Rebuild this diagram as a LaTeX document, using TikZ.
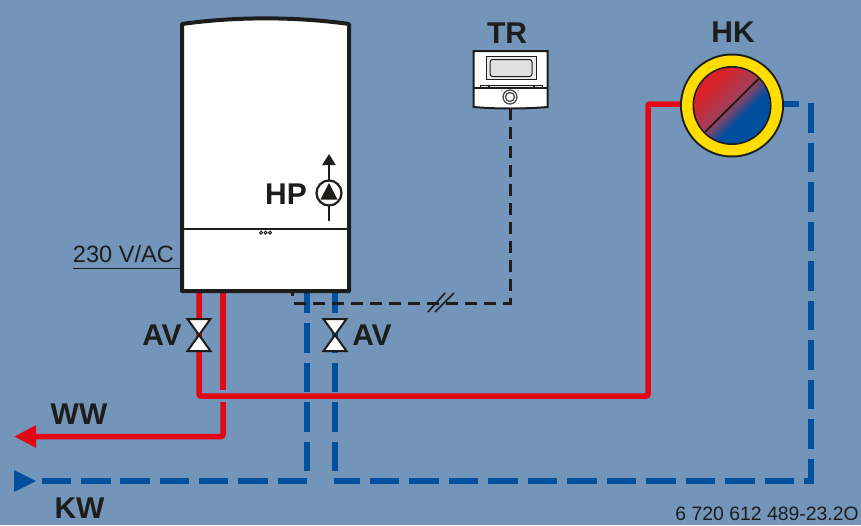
\documentclass[tikz,border=0pt]{standalone}
\usepackage{fontspec}
\setmainfont{Liberation Sans}
\usetikzlibrary{arrows.meta}
\definecolor{bgblue}{RGB}{115,149,186}
\definecolor{pipered}{RGB}{227,6,19}
\definecolor{pipeblue}{RGB}{0,80,158}
\definecolor{ringyellow}{RGB}{255,221,0}
\definecolor{inkblack}{RGB}{29,29,27}
\definecolor{hkred}{RGB}{218,33,40}
\definecolor{hkmid}{RGB}{160,64,90}
\pgfdeclarehorizontalshading{hkmix}{100bp}{color(0bp)=(hkred); color(30bp)=(hkred); color(49bp)=(hkmid); color(60bp)=(pipeblue); color(100bp)=(pipeblue)}
\tikzset{
  redpipe/.style={draw=pipered, line width=5.5pt, rounded corners=2pt},
  bluepipe/.style={draw=pipeblue, line width=5.5pt},
  signalline/.style={draw=inkblack, line width=3pt, dash pattern=on 12pt off 7pt},
  biglabel/.style={font=\fontsize{30}{32}\selectfont\bfseries, text=inkblack, inner sep=0pt},
  thinlabel/.style={text=inkblack, inner sep=0pt},
  devline/.style={draw=inkblack, line width=2pt},
  valvepart/.style={draw=inkblack, fill=white, line width=2pt, line join=miter}
}
\begin{document}
\begin{tikzpicture}[x=1pt,y=-1pt]

        \useasboundingbox (0,0) rectangle (861,525);
        \fill[bgblue] (0,0) rectangle (861,525); %background

        %% ports
        \coordinate (boilerA) at (199,291);
        \coordinate (boilerB) at (223,291);
        \coordinate (boilerC) at (307,291);
        \coordinate (boilerD) at (335,291);
        \coordinate (boilerE) at (292,291);
        \coordinate (hkIn) at (681,104);
        \coordinate (hkOut) at (783,104);
        \coordinate (trOut) at (510,108);
        \coordinate (wwEnd) at (14,436.5);

        %% pipes
        \draw[redpipe] (boilerA) -- (199,396) -- (648,396) -- (648,104) -- (hkIn); %flow
        \draw[redpipe] (boilerB) -- (223,390);
        \draw[redpipe,-{Triangle[length=22pt,width=21pt]}] (223,402) -- (223,436.5) -- (wwEnd); %hot water
        \draw[bluepipe] (hkOut) -- (799,104); %return stub
        \draw[bluepipe,dash pattern=on 29.5pt off 10pt,miter limit=10] (811,103) -- (811,481) -- (334,481);
        \draw[bluepipe,dash pattern=on 29.5pt off 10pt,dash phase=7.5pt] (boilerC) -- (307,471);
        \draw[bluepipe,dash pattern=on 29.5pt off 10pt,dash phase=7.5pt] (boilerD) -- (335,471);
        \draw[bluepipe,dash pattern=on 29.5pt off 9.8pt] (307,481) -- (41,481);
        \fill[pipeblue] (14,470) -- (36,481) -- (14,492) -- cycle; %cold water tip

        %% signal line
        \draw[signalline] (trOut) -- (510,303) -- (291,303);
        \draw[draw=inkblack,line width=3pt] (boilerE) -- (292,296);
        \draw[inkblack,line width=1.6pt] (428,312) -- (445,293); % slash
        \draw[inkblack,line width=1.6pt] (435,312) -- (454,293); % slash

        %% boiler
        \draw[fill=white,draw=inkblack,line width=4pt,line join=round] (182,291) -- (182,24) .. controls (235,16.5) and (296,16.5) .. (349,24) -- (349,291) -- cycle;
        \draw[devline] (182,228.5) -- (349,228.5);
        \foreach \x in {261,265.5,270}
            \draw[inkblack,line width=1pt] (\x,232.7) circle (1.5);

        %% pump
        \draw[inkblack,line width=2.2pt,-{Triangle[length=11pt,width=13pt]}] (329,221) -- (329,154);
        \draw[fill=white,draw=inkblack,line width=2.2pt] (329,193) circle (12.5);
        \fill[inkblack] (329,183) -- (337.5,199.5) -- (320.5,199.5) -- cycle;

        %% thermostat
        \draw[fill=white,devline,line join=miter] (473.5,51) -- (547.5,51) -- (547.5,107) .. controls (525,109) and (496,109) .. (473.5,107) -- cycle;
        \draw[fill=black!8,draw=inkblack,line width=1pt] (486,56) rectangle (536,79.5);
        \draw[fill=black!12,draw=inkblack,line width=1pt,rounded corners=2.5pt] (490,59.5) rectangle (532,76.5);
        \draw[fill=black!10,draw=inkblack,line width=0.7pt] (480,85.5) rectangle (488,88);
        \draw[fill=black!10,draw=inkblack,line width=0.7pt] (489,85.5) rectangle (533,88);
        \draw[fill=black!10,draw=inkblack,line width=0.7pt] (534,85.5) rectangle (542,88);
        \draw[devline] (473.5,88) -- (547.5,88);
        \draw[fill=white,draw=inkblack!80,line width=1.3pt] (510,97) circle (7);
        \draw[fill=white,draw=inkblack!80,line width=1.3pt] (510,97) circle (4.5);
        \fill[inkblack!70] (502,90.5) circle (0.6) (518,90.5) circle (0.6);

        %% heating circuit
        \fill[inkblack] (732,105.5) circle (52);
        \fill[ringyellow] (732,105.5) circle (50);
        \fill[inkblack] (732,105.5) circle (39.5);
        \shade[shading=hkmix,shading angle=-45] (732,105.5) circle (37.8);
        \draw[inkblack,line width=1.8pt] (705,132) -- (758.5,79);

        %% valves
        \foreach \x in {199,335}{
            \draw[valvepart] (\x-11.5,319) -- (\x+11.5,319) -- (\x,335) -- cycle;
            \draw[valvepart] (\x-11.5,351) -- (\x+11.5,351) -- (\x,335) -- cycle;
        }

        %% labels
        \node[biglabel] (labelHP) at (286,194) {HP};
        \node[biglabel] (labelTR) at (507,33.5) {TR};
        \node[biglabel] (labelHK) at (733,32) {HK};
        \node[biglabel] (labelAVa) at (162,335) {AV};
        \node[biglabel] (labelAVb) at (372,335) {AV};
        \node[biglabel] (labelWW) at (79,414) {WW};
        \node[biglabel] (labelKW) at (79.5,508) {KW};
        \node[thinlabel,font=\fontsize{23.6}{25}\selectfont] (labelAC) at (123.5,254.5) {230 V/AC};
        \draw[inkblack,line width=1pt] (73,268) -- (182,268);
        \node[thinlabel,font=\fontsize{19.4}{21}\selectfont,anchor=east] (labelNr) at (859,514) {6 720 612 489-23.2O};
    \end{tikzpicture}
\end{document}
